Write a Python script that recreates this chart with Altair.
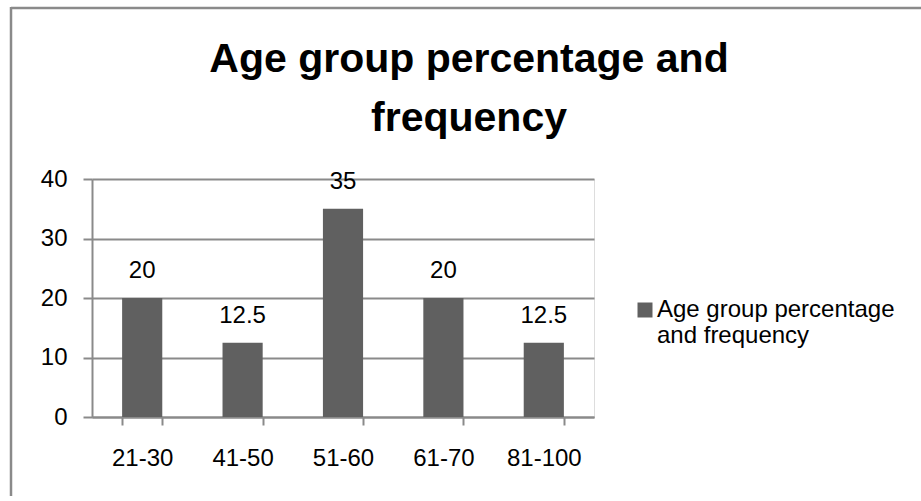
import altair as alt
import pandas as pd

categories = ["21-30", "41-50", "51-60", "61-70", "81-100"]
values = [20, 12.5, 35, 20, 12.5]
series_name = "Age group percentage and frequency"
y_ticks = [0, 10, 20, 30, 40]

df = pd.DataFrame({"group": categories, "value": values, "series": [series_name] * len(categories)})

FONT = "Liberation Sans"
BAR = "#606060"
GRID = "#8a8a8a"

base = alt.Chart(df)

bars = base.mark_bar(color=BAR).encode(
    x=alt.X("group:N", sort=categories,
            scale=alt.Scale(paddingInner=0.6, paddingOuter=0.3),
            axis=alt.Axis(title=None, labelAngle=0, labelFont=FONT, labelFontSize=24,
                          labelColor="black", labelPadding=21, tickBand="extent",
                          tickSize=8, tickColor=GRID, tickWidth=2,
                          domainColor=GRID, domainWidth=2, grid=False)),
    y=alt.Y("value:Q", scale=alt.Scale(domain=[0, 40], nice=False),
            axis=alt.Axis(title=None, values=y_ticks, labelFont=FONT, labelFontSize=24,
                          labelColor="black", labelPadding=16, tickSize=9,
                          tickColor=GRID, tickWidth=2, domainColor=GRID, domainWidth=2,
                          grid=True, gridColor=GRID, gridWidth=2)),
    color=alt.Color("series:N",
                    scale=alt.Scale(range=[BAR]),
                    legend=alt.Legend(title=None, orient="none", legendX=541, legendY=119,
                                      symbolType="square", symbolSize=225,
                                      symbolStrokeWidth=0, labelFont=FONT,
                                      labelFontSize=24, labelColor="black",
                                      labelOffset=0, labelLimit=400, padding=0,
                                      labelBaseline="middle",
                                      labelExpr="['Age group percentage', 'and frequency']")),
)

labels = base.mark_text(font=FONT, fontSize=24, color="black", baseline="alphabetic", dy=-20).encode(
    x=alt.X("group:N", sort=categories),
    y=alt.Y("value:Q"),
    text=alt.Text("value:Q"),
)

frame_df = pd.DataFrame({"a": [0]})
frame_top = alt.Chart(frame_df).mark_rule(color="#8a8a8a", strokeWidth=2.5).encode(
    x=alt.value(-81), x2=alt.value(840), y=alt.value(-171)
)
frame_left = alt.Chart(frame_df).mark_rule(color="#8a8a8a", strokeWidth=2.5).encode(
    x=alt.value(-81), y=alt.value(-172), y2=alt.value(400)
)

chart = alt.layer(bars, labels, frame_top, frame_left).properties(
    width=502,
    height=238,
    autosize=alt.AutoSizeParams(type="none"),
    padding={"left": 92, "top": 179, "right": 327, "bottom": 79},
    title=alt.TitleParams(text=["Age group percentage and", "frequency"], font=FONT,
                          fontSize=41, fontWeight="bold", color="black",
                          anchor="middle", frame="group", dx=126, lineHeight=59,
                          offset=-134),
).configure_view(stroke=None).configure(background="white")

chart.save("out.html", embed_options={"renderer": "svg", "actions": False})
